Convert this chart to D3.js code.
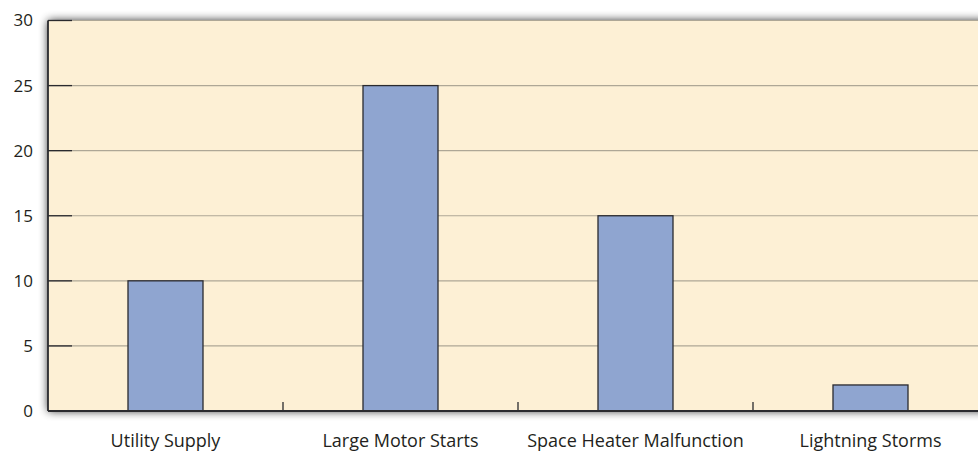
<!DOCTYPE html>
<html><head><meta charset="utf-8">
<script src="https://cdn.jsdelivr.net/npm/d3@7"></script>
<style>body{margin:0;background:#fff}svg{display:block}text{font-family:"Open Sans",sans-serif;fill:#231f20}</style>
</head><body>
<svg id="c" width="978" height="451"></svg>
<script>
const categories = ["Utility Supply", "Large Motor Starts", "Space Heater Malfunction", "Lightning Storms"];
const values = [10, 25, 15, 2];
const yTicks = [0, 5, 10, 15, 20, 25, 30];

const svg = d3.select("#c");
const pL = 48, pR = 988, pT = 20.5, pB = 411;
const x = d3.scaleBand().domain(categories).range([pL, pR]).padding(0);
const y = d3.scaleLinear().domain([0, 30]).range([pB, pT]);
const barW = 75;

const defs = svg.append("defs");
const f = defs.append("filter").attr("id", "sh").attr("x", "-10%").attr("y", "-20%").attr("width", "120%").attr("height", "140%");
f.append("feGaussianBlur").attr("in", "SourceAlpha").attr("stdDeviation", 5);
f.append("feComponentTransfer").append("feFuncA").attr("type", "linear").attr("slope", 0.85);
const m = f.append("feMerge");
m.append("feMergeNode");
m.append("feMergeNode").attr("in", "SourceGraphic");

svg.append("rect").attr("x", pL).attr("y", pT).attr("width", pR - pL).attr("height", pB - pT)
  .attr("fill", "#fdf0d5").attr("filter", "url(#sh)");

// gridlines
svg.append("g").selectAll("line").data(yTicks.filter(d => d > 0)).join("line")
  .attr("x1", pL).attr("x2", pR).attr("y1", d => y(d)).attr("y2", d => y(d))
  .attr("stroke", "#aea796").attr("stroke-width", 1.2);

// bars
svg.append("g").selectAll("rect").data(categories).join("rect")
  .attr("x", (d) => x(d) + x.bandwidth() / 2 - barW / 2)
  .attr("y", (d, i) => y(values[i]))
  .attr("width", barW)
  .attr("height", (d, i) => pB - y(values[i]))
  .attr("fill", "#8fa5d0").attr("stroke", "#2a2a2e").attr("stroke-width", 1.3);

// y axis
const ya = d3.axisLeft(y).tickValues(yTicks).tickSize(0).tickPadding(15);
const yg = svg.append("g").attr("transform", `translate(${pL},0)`).call(ya);
yg.select(".domain").remove();
yg.selectAll("text").style("font-size", "17px").attr("fill", "#231f20");
svg.append("g").selectAll("line").data(yTicks).join("line")
  .attr("x1", pL).attr("x2", pL + 24).attr("y1", d => y(d)).attr("y2", d => y(d))
  .attr("stroke", "#2a2a2e").attr("stroke-width", 1.3);
svg.append("line").attr("x1", pL).attr("x2", pL).attr("y1", pT).attr("y2", pB)
  .attr("stroke", "#2a2a2e").attr("stroke-width", 1.8);

// x axis
const xa = d3.axisBottom(x).tickSize(0).tickPadding(23);
const xg = svg.append("g").attr("transform", `translate(0,${pB})`).call(xa);
xg.select(".domain").remove();
xg.selectAll("text").style("font-size", "18px").attr("fill", "#231f20");
svg.append("g").selectAll("line").data(categories.slice(1)).join("line")
  .attr("x1", d => x(d)).attr("x2", d => x(d)).attr("y1", pB).attr("y2", pB - 9)
  .attr("stroke", "#2a2a2e").attr("stroke-width", 1.3);
svg.append("line").attr("x1", pL).attr("x2", pR).attr("y1", pB).attr("y2", pB)
  .attr("stroke", "#2a2a2e").attr("stroke-width", 1.8);
</script>
</body></html>
